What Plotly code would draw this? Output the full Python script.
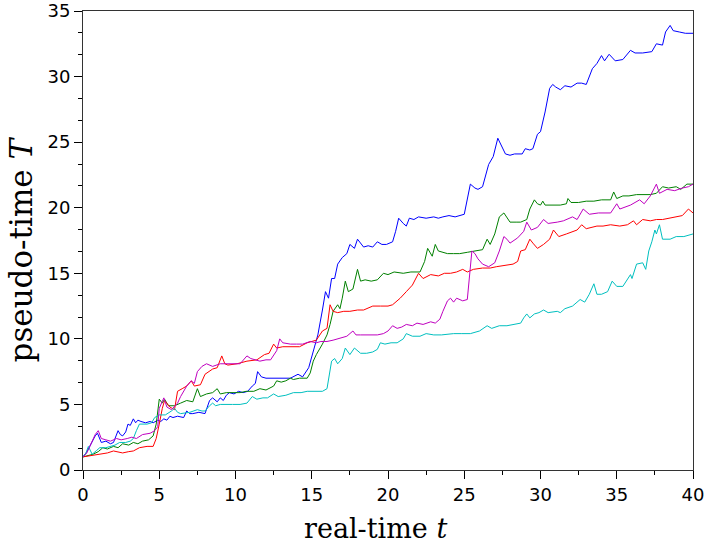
import plotly.graph_objects as go

# ---- data (real-time t, pseudo-time T) ----
blue = [(0,1.0),(0.2,1.3),(0.44,1.8),(0.6,2.2),(0.8,2.6),(0.95,2.8),(1.2,2.1),(1.5,2.2),(1.8,2.0),(2.0,2.1),
        (2.3,3.0),(2.45,2.7),(2.6,2.6),(2.8,2.9),(2.95,3.5),(3.1,3.4),(3.3,3.9),(3.45,3.6),(3.6,3.8),(3.8,3.7),
        (4.1,3.6),(4.4,3.7),(4.6,3.6),(4.9,3.8),(5.1,3.7),(5.3,3.9),(5.5,3.8),(5.7,4.1),(5.9,4.0),(6.2,4.1),
        (6.6,4.0),(6.8,4.5),(7.0,4.3),(7.2,4.3),(7.6,4.4),(8.0,4.3),(8.15,4.8),(8.3,5.3),(8.5,5.5),(8.8,5.2),
        (9.0,5.5),(9.2,5.3),(9.4,5.7),(9.6,5.9),(9.9,5.8),(10.2,6.0),(10.5,5.9),(10.8,6.0),(11.1,6.4),(11.3,6.6),
        (11.45,7.5),(11.7,7.1),(12.0,7.0),(12.5,7.0),(13.0,7.0),(13.6,7.0),(14.1,7.3),(14.4,7.1),(14.8,7.8),(15.0,8.6),
        (15.2,9.5),(15.4,10.3),(15.7,12.2),(15.9,13.6),(16.1,13.1),(16.3,14.6),(16.5,14.6),(16.7,15.7),(17.0,16.2),(17.3,16.5),
        (17.5,17.2),(17.8,16.9),(18.0,17.6),(18.2,17.3),(18.4,17.0),(18.7,17.1),(19.0,17.0),(19.3,17.4),(19.6,17.2),(19.9,17.2),
        (20.3,17.4),(20.5,18.2),(20.7,19.2),(21.0,18.8),(21.2,18.6),(21.4,19.2),(21.7,19.1),(22.0,19.3),(22.5,19.2),(23.0,19.3),
        (23.3,19.2),(23.6,19.3),(24.0,19.4),(24.4,19.3),(24.7,19.4),(25.0,19.5),(25.4,21.8),(25.7,21.5),(25.9,21.4),(26.2,21.6),
        (26.6,23.3),(26.9,23.9),(27.2,25.3),(27.4,24.8),(27.7,24.1),(28.0,24.0),(28.3,24.1),(28.8,24.1),(29.0,24.5),(29.3,24.4),
        (29.5,24.5),(29.8,25.6),(30.0,25.8),(30.3,27.3),(30.6,29.1),(30.8,29.4),(31.0,29.2),(31.3,29.0),(31.6,29.3),(32.0,29.2),
        (32.4,29.5),(32.7,29.5),(33.0,29.4),(33.4,30.6),(33.7,31.0),(34.0,31.6),(34.2,31.2),(34.5,31.7),(34.9,31.2),(35.4,31.3),
        (35.9,32.0),(36.2,31.8),(36.7,31.8),(37.3,31.9),(37.6,32.5),(38.0,32.4),(38.2,33.4),(38.5,33.9),(38.7,33.5),(39.1,33.4),
        (39.5,33.3),(40,33.3)]

green = [(0,1.0),(0.3,1.1),(0.66,1.2),(1.0,1.4),(1.3,1.7),(1.6,1.6),(2.0,1.8),(2.3,1.7),(2.6,2.0),(3.0,1.9),
         (3.3,2.1),(3.6,2.0),(3.9,2.2),(4.3,2.3),(4.6,2.6),(4.8,3.5),(5.0,5.4),(5.2,5.1),(5.35,5.4),(5.6,4.9),
         (6.0,4.9),(6.4,5.1),(6.8,5.3),(7.2,5.2),(7.5,6.2),(7.7,5.6),(8.1,5.8),(8.5,5.9),(8.8,6.2),(9.0,5.8),
         (9.4,5.9),(10.3,5.9),(10.7,6.0),(11.2,6.0),(11.6,6.2),(12.0,6.1),(12.5,6.4),(12.7,6.8),(13.0,6.7),(13.3,6.8),
         (13.6,7.0),(13.8,6.9),(14.2,7.0),(14.7,7.0),(14.9,7.4),(15.1,8.3),(15.3,8.8),(15.7,9.6),(16.0,10.3),(16.2,11.1),
         (16.4,12.1),(16.7,12.6),(16.85,12.3),(17.0,13.1),(17.2,14.4),(17.4,13.6),(17.7,13.8),(18.0,15.3),(18.2,14.4),(18.5,14.5),
         (18.9,14.4),(19.3,14.5),(19.7,15.0),(20.0,14.9),(20.4,15.1),(21.0,15.0),(21.5,15.1),(21.9,15.1),(22.1,15.1),(22.4,15.9),
         (22.6,16.9),(22.9,16.3),(23.1,17.2),(23.3,16.7),(23.6,16.6),(23.9,16.5),(24.3,16.5),(24.7,16.5),(25.2,16.6),(25.6,16.7),
         (26.2,16.8),(26.5,17.6),(26.7,17.2),(27.0,18.0),(27.3,19.3),(27.6,19.6),(27.8,19.2),(28.0,18.9),(28.4,18.9),(28.7,18.9),
         (29.1,19.1),(29.3,19.9),(29.6,20.6),(29.8,20.3),(30.0,20.2),(30.15,20.5),(30.3,20.2),(30.6,20.2),(31.3,20.2),(31.7,20.3),
         (31.8,20.7),(32.0,20.4),(32.5,20.4),(33.0,20.5),(33.5,20.5),(34.0,20.6),(34.6,20.6),(34.8,21.2),(35.0,20.7),(35.4,20.9),
         (35.8,20.9),(36.3,21.0),(36.8,21.0),(37.2,21.0),(37.6,21.1),(38.0,21.6),(38.4,21.5),(38.9,21.6),(39.2,21.4),(39.6,21.8),
         (40,21.8)]

red = [(0,1.0),(0.3,1.05),(0.7,1.1),(1.1,1.2),(1.6,1.3),(2.0,1.45),(2.3,1.4),(2.6,1.3),(3.0,1.4),(3.3,1.45),
       (3.7,1.7),(4.2,1.8),(4.6,1.8),(4.8,2.4),(5.0,3.5),(5.2,4.7),(5.35,5.3),(5.5,5.1),(5.7,4.8),(6.0,4.6),
       (6.2,6.0),(6.5,6.2),(6.8,6.4),(7.1,6.8),(7.3,6.4),(7.7,6.5),(8.0,7.3),(8.5,7.7),(8.8,7.8),(9.1,8.7),
       (9.3,8.1),(9.5,8.0),(10.1,8.1),(10.75,8.3),(11.4,8.4),(11.9,8.8),(12.2,8.9),(12.5,9.6),(12.7,9.3),(13.1,9.4),
       (13.8,9.4),(14.2,9.4),(14.7,9.7),(15.0,9.8),(15.3,9.9),(15.7,10.6),(16.0,10.8),(16.2,12.6),(16.4,12.1),(16.7,12.0),
       (17.1,12.1),(17.5,12.1),(18.0,12.2),(18.4,12.2),(18.8,12.4),(19.0,12.5),(19.5,12.5),(20.0,12.5),(20.3,12.6),(20.8,13.1),
       (21.2,13.6),(21.6,14.1),(22.0,15.0),(22.3,14.6),(22.8,14.9),(23.3,14.8),(23.7,15.0),(24.1,15.0),(24.5,15.1),(24.9,15.3),
       (25.2,15.1),(25.6,15.3),(26.2,15.4),(26.7,15.4),(27.1,15.5),(27.7,15.6),(28.2,15.7),(28.5,15.9),(28.7,16.7),(29.0,16.8),
       (29.3,17.6),(29.5,17.3),(29.8,16.9),(30.2,17.2),(30.6,17.6),(30.85,18.3),(31.2,17.8),(31.7,18.0),(32.4,18.3),(32.7,18.7),
       (33.0,18.4),(33.7,18.6),(34.1,18.6),(34.6,18.7),(35.2,18.6),(35.7,18.7),(36.1,19.0),(36.3,18.7),(36.7,19.1),(37.2,19.0),
       (37.6,19.1),(38.0,19.1),(38.5,19.2),(38.9,19.3),(39.3,19.4),(39.7,19.9),(40,19.6)]

cyan = [(0,1.0),(0.2,1.3),(0.35,1.8),(0.6,1.2),(0.9,1.5),(1.1,1.7),(1.5,1.7),(1.8,1.8),(2.1,1.9),(2.4,2.1),
        (2.8,2.1),(3.1,2.2),(3.3,2.4),(3.5,3.0),(3.7,3.5),(4.0,3.5),(4.2,3.5),(4.5,3.6),(4.7,4.0),(5.0,4.2),
        (5.4,4.2),(5.8,4.5),(6.0,4.7),(6.2,4.4),(6.4,4.3),(7.0,4.4),(7.5,4.6),(7.8,4.5),(8.0,4.5),(8.3,4.9),
        (8.5,5.1),(8.7,4.9),(9.0,5.0),(9.8,5.0),(10.3,5.0),(10.75,5.1),(11.1,5.6),(11.4,5.4),(11.8,5.5),(12.1,5.5),
        (12.5,5.8),(12.8,5.6),(13.3,5.7),(13.8,5.9),(14.3,5.9),(14.7,6.0),(15.3,6.0),(15.7,6.0),(16.0,6.2),(16.2,7.5),
        (16.3,8.3),(16.5,8.5),(16.7,8.1),(17.0,8.5),(17.2,9.3),(17.5,8.8),(17.8,9.3),(18.2,8.9),(18.6,8.9),(19.0,9.0),
        (19.3,9.2),(19.5,9.7),(19.8,9.6),(20.2,9.7),(20.6,9.7),(21.0,10.0),(21.2,10.4),(21.6,10.2),(22.1,10.2),(22.5,10.4),
        (23.0,10.3),(23.5,10.3),(24.3,10.4),(24.8,10.4),(25.4,10.4),(26.0,10.6),(26.5,11.0),(26.8,10.8),(27.3,11.0),(27.8,11.0),
        (28.2,11.1),(28.7,11.2),(28.9,11.6),(29.1,11.9),(29.3,11.6),(29.6,11.9),(29.9,12.0),(30.2,12.2),(30.5,12.0),(31.1,12.1),
        (31.3,12.0),(31.6,12.3),(32.1,12.5),(32.6,13.0),(32.9,12.8),(33.2,13.4),(33.5,14.2),(33.7,13.4),(34.0,13.4),(34.4,13.6),
        (34.7,14.4),(35.0,14.0),(35.4,14.0),(35.9,14.9),(36.0,14.6),(36.3,15.7),(36.7,15.8),(36.9,15.3),(37.1,16.7),(37.3,17.4),
        (37.5,18.3),(37.6,18.0),(37.8,18.7),(38.0,17.6),(38.5,17.6),(38.9,17.8),(39.4,17.8),(40,18.0)]

magenta = [(0,1.0),(0.25,1.3),(0.45,1.8),(0.65,2.4),(0.8,2.7),(1.0,3.0),(1.2,2.4),(1.5,2.3),(1.8,2.2),(2.2,2.4),
           (2.5,2.3),(2.9,2.4),(3.2,2.5),(3.5,2.4),(3.9,2.7),(4.4,2.8),(4.7,3.0),(4.9,3.3),(5.0,4.7),(5.3,5.5),
           (5.5,4.8),(5.8,4.6),(6.2,5.1),(6.4,5.6),(6.8,6.4),(7.1,6.8),(7.3,6.6),(7.5,7.5),(7.8,7.9),(8.1,8.1),
           (8.5,7.9),(9.0,8.1),(9.6,8.1),(10.3,8.1),(10.75,8.7),(11.0,8.5),(11.3,8.4),(11.6,8.3),(12.0,8.4),(12.3,8.4),
           (12.7,9.1),(12.9,10.0),(13.1,9.7),(13.6,9.6),(14.0,9.6),(14.4,9.6),(14.9,9.8),(15.3,9.7),(15.6,9.8),(16.0,9.8),
           (16.4,9.9),(16.7,10.0),(17.0,10.1),(17.3,10.2),(17.7,10.6),(17.9,10.3),(18.2,10.3),(18.8,10.3),(19.3,10.3),(19.7,10.4),
           (20.0,10.6),(20.3,11.0),(20.6,10.8),(20.9,10.9),(21.2,11.1),(21.6,11.0),(21.9,11.2),(22.3,11.1),(22.8,11.3),(23.1,11.2),
           (23.4,11.5),(23.6,12.1),(23.9,12.9),(24.1,13.1),(24.3,12.8),(24.5,13.1),(24.9,12.9),(25.2,13.0),(25.5,16.7),(25.7,16.5),
           (25.9,16.1),(26.2,15.7),(26.6,15.5),(27.0,15.8),(27.3,16.7),(27.6,17.8),(27.8,17.6),(28.0,17.3),(28.5,17.7),(28.9,18.2),
           (29.1,18.9),(29.4,18.3),(29.8,18.5),(30.2,19.1),(30.5,18.8),(31.1,18.9),(31.5,19.0),(32.1,19.3),(32.4,19.1),(32.8,19.9),
           (33.2,19.5),(33.8,19.6),(34.6,19.6),(35.0,20.3),(35.2,19.9),(35.9,20.2),(36.5,20.6),(36.8,20.3),(37.2,20.9),(37.6,21.8),
           (37.8,21.1),(38.3,21.4),(38.8,21.3),(39.3,21.5),(39.7,21.6),(40,21.8)]

series = [("blue", blue, "#0000FF"),
          ("green", green, "#008000"),
          ("red", red, "#FF0000"),
          ("cyan", cyan, "#00BFBF"),
          ("magenta", magenta, "#BF00BF")]

x_ticks = [0, 5, 10, 15, 20, 25, 30, 35, 40]
y_ticks = [0, 5, 10, 15, 20, 25, 30, 35]
x_title = "real-time <i>t</i>"
y_title = "pseudo-time <i>T</i>"

fig = go.Figure()
for name, pts, color in series:
    fig.add_trace(go.Scatter(
        x=[p[0] for p in pts], y=[p[1] for p in pts],
        mode="lines", name=name, line=dict(color=color, width=1),
        showlegend=False, hoverinfo="skip", cliponaxis=True))

tickfont = dict(family="DejaVu Sans", size=18, color="#000000")

fig.update_layout(
    width=707, height=545,
    margin=dict(l=83, r=14, t=11, b=75, autoexpand=False),
    paper_bgcolor="white", plot_bgcolor="white",
    xaxis=dict(range=[0, 40], tickvals=x_ticks, ticks="outside", ticklen=8, tickcolor="#000",
               automargin=False, ticklabeloverflow="allow",
               showgrid=False, zeroline=False, showline=True, linecolor="#333", linewidth=1, mirror=True,
               tickfont=tickfont,
               minor=dict(dtick=2.5, ticks="outside", ticklen=4, tickcolor="#000", showgrid=False)),
    yaxis=dict(range=[0, 35], tickvals=y_ticks, ticks="outside", ticklen=8, tickcolor="#000",
               automargin=False, ticklabeloverflow="allow",
               showgrid=False, zeroline=False, showline=True, linecolor="#333", linewidth=1, mirror=True,
               tickfont=tickfont,
               minor=dict(dtick=5/3, tick0=0, ticks="outside", ticklen=4, tickcolor="#000", showgrid=False)),
    annotations=[
        dict(text=x_title, xref="paper", yref="paper", x=0.48, y=-0.127,
             xanchor="center", yanchor="middle", showarrow=False,
             font=dict(family="DejaVu Serif", size=27, color="#000")),
        dict(text=y_title, xref="paper", yref="paper", x=-0.102, y=0.48, textangle=-90,
             xanchor="center", yanchor="middle", showarrow=False,
             font=dict(family="DejaVu Serif", size=31, color="#000")),
    ],
)

fig.write_html("out.html", config={"displayModeBar": False},
               post_script="document.body.style.margin='0';")
